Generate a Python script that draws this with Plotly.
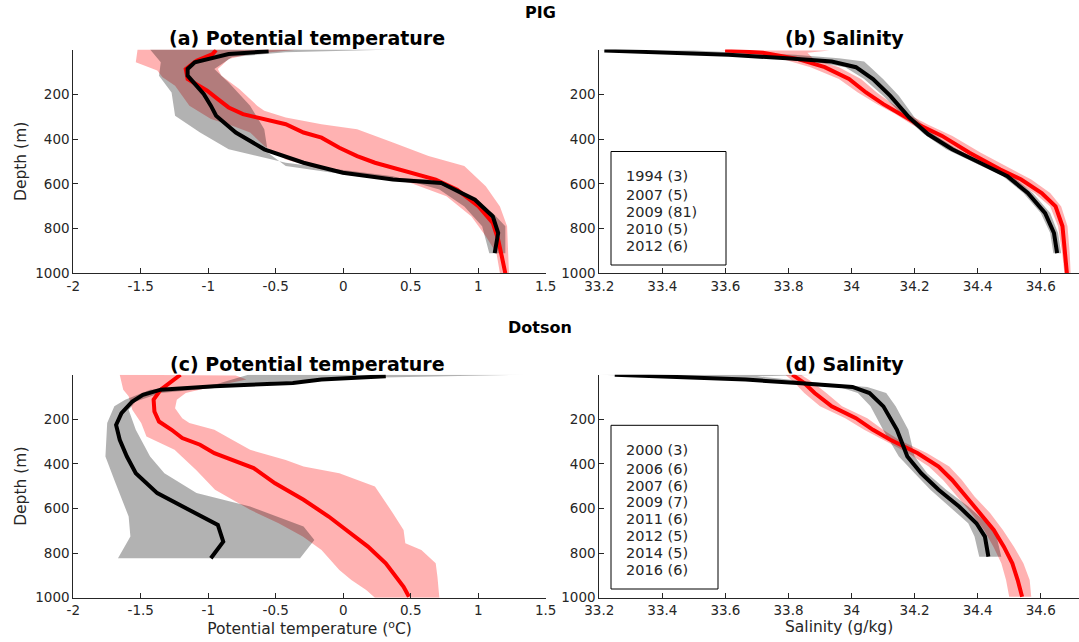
import plotly.graph_objects as go

# ---------------- PIG: potential temperature (a) ----------------
pig_t_old_depth = [8, 20, 57, 87, 117, 154, 199, 251, 296, 371, 446, 506, 551, 581, 596, 671, 746, 820, 910]
pig_t_old = [-0.553, -0.849, -1.10, -1.153, -1.153, -1.10, -1.034, -0.981, -0.942, -0.796, -0.585, -0.294,
             -0.003, 0.368, 0.725, 0.976, 1.108, 1.148, 1.122]
pig_t_new_depth = [3, 20, 50, 87, 132, 154, 184, 222, 259, 289, 311, 334, 371, 394, 439, 476, 506, 528, 551,
                   581, 626, 701, 775, 850, 925, 1000]
pig_t_new = [-0.942, -0.968, -1.087, -1.167, -1.153, -1.087, -1.008, -0.929, -0.849, -0.743, -0.585, -0.426,
             -0.294, -0.161, -0.029, 0.103, 0.235, 0.368, 0.500, 0.685, 0.844, 1.003, 1.108, 1.148, 1.175, 1.201]
pig_t_new_lo_depth = [0, 57, 94, 124, 162, 207, 251, 311, 341, 371, 431, 491, 536, 566, 596, 656, 746, 835, 910, 1000]
pig_t_new_lo = [-1.524, -1.537, -1.378, -1.339, -1.246, -1.193, -1.14, -0.98, -0.823, -0.69, -0.585, -0.426,
                -0.161, 0.235, 0.5, 0.765, 0.95, 1.056, 1.135, 1.161]
pig_t_new_hi_depth = [0, 20, 42, 87, 117, 177, 251, 274, 304, 334, 356, 416, 476, 521, 611, 701, 790, 1000]
pig_t_new_hi = [-0.32, -0.69, -0.849, -0.929, -0.902, -0.77, -0.638, -0.585, -0.426, -0.161, 0.103, 0.368,
                0.632, 0.897, 1.056, 1.161, 1.214, 1.228]
pig_t_old_lo_depth = [0, 57, 117, 192, 296, 371, 446, 506, 536, 566, 626, 701, 790, 910]
pig_t_old_lo = [-1.431, -1.352, -1.365, -1.272, -1.246, -1.061, -0.849, -0.426, -0.029, 0.368, 0.712, 0.897,
                1.029, 1.082]
pig_t_old_hi_depth = [0, 12, 34, 87, 147, 251, 356, 461, 521, 566, 581, 656, 731, 790, 910]
pig_t_old_hi = [0.394, -0.426, -0.823, -0.955, -0.849, -0.69, -0.585, -0.558, -0.426, 0.103, 0.632, 0.897,
                1.108, 1.201, 1.201]

# ---------------- PIG: salinity (b) ----------------
pig_s_old_depth = [5, 12, 24, 39, 54, 79, 132, 207, 304, 379, 446, 506, 566, 641, 731, 820, 910]
pig_s_old = [33.216, 33.391, 33.61, 33.795, 33.937, 34.014, 34.068, 34.123, 34.183, 34.243, 34.319, 34.407,
             34.494, 34.559, 34.614, 34.642, 34.652]
pig_s_old_lo = [33.2, 33.36, 33.57, 33.75, 33.88, 33.98, 34.04, 34.10, 34.17, 34.23, 34.30, 34.39, 34.48,
                34.545, 34.60, 34.63, 34.64]
pig_s_old_hi = [33.5, 33.62, 33.82, 33.96, 34.04, 34.06, 34.10, 34.15, 34.20, 34.26, 34.335, 34.42, 34.51,
                34.575, 34.63, 34.655, 34.665]
pig_s_new_depth = [5, 15, 42, 79, 132, 192, 244, 289, 334, 386, 461, 536, 581, 641, 701, 790, 910, 1000]
pig_s_new = [33.599, 33.719, 33.828, 33.915, 33.992, 34.046, 34.101, 34.156, 34.21, 34.287, 34.374, 34.472,
             34.538, 34.603, 34.647, 34.669, 34.678, 34.683]
pig_s_new_lo = [33.58, 33.68, 33.78, 33.87, 33.96, 34.02, 34.08, 34.14, 34.19, 34.26, 34.345, 34.44, 34.51,
                34.58, 34.63, 34.655, 34.668, 34.675]
pig_s_new_hi = [33.93, 33.86, 33.88, 33.96, 34.03, 34.08, 34.13, 34.18, 34.24, 34.32, 34.41, 34.51, 34.57,
                34.63, 34.665, 34.685, 34.692, 34.695]

# ---------------- Dotson: potential temperature (c) ----------------
dot_t_old_depth = [7, 22, 37, 52, 67, 90, 120, 172, 225, 292, 367, 442, 531, 606, 674, 749, 823]
dot_t_old = [0.315, -0.161, -0.373, -0.955, -1.352, -1.484, -1.563, -1.643, -1.683, -1.656, -1.603, -1.537,
             -1.378, -1.14, -0.929, -0.889, -0.981]
dot_t_new_depth = [0, 30, 67, 112, 165, 210, 247, 284, 314, 352, 382, 419, 487, 561, 636, 711, 771, 846, 906,
                   951, 996]
dot_t_new = [-1.206, -1.272, -1.352, -1.405, -1.399, -1.365, -1.272, -1.193, -1.061, -0.955, -0.823, -0.664,
             -0.505, -0.294, -0.108, 0.05, 0.183, 0.315, 0.394, 0.447, 0.487]
dot_t_new_lo_depth = [0, 67, 97, 157, 217, 277, 337, 427, 516, 606, 666, 726, 786, 876, 921, 966, 1000]
dot_t_new_lo = [-1.656, -1.63, -1.59, -1.563, -1.497, -1.458, -1.25, -1.09, -0.95, -0.69, -0.479, -0.30,
                -0.161, -0.029, 0.06, 0.17, 0.235]
dot_t_new_hi_depth = [4, 22, 52, 82, 112, 150, 195, 217, 247, 292, 337, 382, 412, 442, 501, 621, 696, 756,
                      786, 846, 906, 1000]
dot_t_new_hi = [-0.796, -0.717, -0.955, -1.167, -1.233, -1.246, -1.193, -1.14, -0.955, -0.823, -0.69, -0.426,
                -0.294, -0.029, 0.235, 0.368, 0.447, 0.46, 0.579, 0.685, 0.698, 0.712]
dot_t_old_lo_depth = [0, 45, 67, 112, 142, 217, 367, 472, 636, 726, 823]
dot_t_old_lo = [-0.704, -0.955, -1.431, -1.616, -1.696, -1.749, -1.762, -1.696, -1.59, -1.577, -1.669]
dot_t_old_hi_depth = [0, 15, 37, 60, 82, 120, 157, 247, 367, 442, 531, 591, 681, 741, 823]
dot_t_old_hi = [1.346, 0.103, -0.69, -0.955, -1.352, -1.537, -1.59, -1.537, -1.431, -1.325, -1.087, -0.69,
                -0.294, -0.214, -0.32]

# ---------------- Dotson: salinity (d) ----------------
dot_s_old_depth = [0, 7, 22, 37, 55, 82, 142, 247, 367, 442, 516, 591, 666, 726, 816]
dot_s_old = [33.249, 33.391, 33.664, 33.828, 34.003, 34.057, 34.101, 34.144, 34.177, 34.221, 34.276, 34.341,
             34.396, 34.423, 34.434]
dot_s_old_lo = [33.2, 33.35, 33.62, 33.79, 33.96, 34.02, 34.06, 34.10, 34.15, 34.20, 34.25, 34.31, 34.37,
                34.39, 34.405]
dot_s_old_hi = [33.9, 33.7, 33.8, 33.9, 34.05, 34.11, 34.14, 34.18, 34.20, 34.24, 34.30, 34.37, 34.43,
                34.46, 34.475]
dot_s_new_depth = [0, 37, 82, 142, 195, 247, 292, 352, 412, 472, 546, 621, 696, 771, 846, 921, 996]
dot_s_new = [33.812, 33.85, 33.883, 33.937, 34.014, 34.068, 34.123, 34.21, 34.276, 34.319, 34.363, 34.407,
             34.451, 34.483, 34.51, 34.527, 34.541]
dot_s_new_lo = [33.79, 33.82, 33.85, 33.90, 33.98, 34.04, 34.10, 34.18, 34.245, 34.29, 34.335, 34.38, 34.42,
                34.45, 34.475, 34.49, 34.50]
dot_s_new_hi = [33.84, 33.88, 33.92, 33.97, 34.05, 34.10, 34.15, 34.24, 34.31, 34.35, 34.39, 34.44, 34.48,
                34.515, 34.545, 34.565, 34.57]

# ---------------- labels ----------------
temp_ticks = [-2, -1.5, -1, -0.5, 0, 0.5, 1, 1.5]
temp_ticktext = ["-2", "-1.5", "-1", "-0.5", "0", "0.5", "1", "1.5"]
sal_ticks = [33.2, 33.4, 33.6, 33.8, 34.0, 34.2, 34.4, 34.6]
sal_ticktext = ["33.2", "33.4", "33.6", "33.8", "34", "34.2", "34.4", "34.6"]
depth_ticks = [200, 400, 600, 800, 1000]
pig_legend = ["1994 (3)", "2007 (5)", "2009 (81)", "2010 (5)", "2012 (6)"]
dot_legend = ["2000 (3)", "2006 (6)", "2007 (6)", "2009 (7)", "2011 (6)", "2012 (5)", "2014 (5)", "2016 (6)"]

RED_FILL = "rgba(255,0,0,0.3)"
GREY_FILL = "rgba(0,0,0,0.3)"
W, H = 1079, 642
FONT = "DejaVu Sans"
AX = "#262626"

fig = go.Figure()


def band(xl, dl, xh, dh, color, xa, ya):
    xs = list(xl) + list(reversed(xh))
    ys = list(dl) + list(reversed(dh))
    fig.add_trace(go.Scatter(x=xs, y=ys, fill="toself", fillcolor=color, mode="none",
                             line=dict(width=0), hoverinfo="skip", showlegend=False, xaxis=xa, yaxis=ya))


def line(x, d, color, xa, ya):
    fig.add_trace(go.Scatter(x=x, y=d, mode="lines", line=dict(color=color, width=4),
                             showlegend=False, xaxis=xa, yaxis=ya))


# (a)
band(pig_t_new_lo, pig_t_new_lo_depth, pig_t_new_hi, pig_t_new_hi_depth, RED_FILL, "x", "y")
band(pig_t_old_lo, pig_t_old_lo_depth, pig_t_old_hi, pig_t_old_hi_depth, GREY_FILL, "x", "y")
line(pig_t_new, pig_t_new_depth, "#ff0000", "x", "y")
line(pig_t_old, pig_t_old_depth, "#000000", "x", "y")
# (b)
band(pig_s_new_lo, pig_s_new_depth, pig_s_new_hi, pig_s_new_depth, RED_FILL, "x2", "y2")
band(pig_s_old_lo, pig_s_old_depth, pig_s_old_hi, pig_s_old_depth, GREY_FILL, "x2", "y2")
line(pig_s_new, pig_s_new_depth, "#ff0000", "x2", "y2")
line(pig_s_old, pig_s_old_depth, "#000000", "x2", "y2")
# (c)
band(dot_t_new_lo, dot_t_new_lo_depth, dot_t_new_hi, dot_t_new_hi_depth, RED_FILL, "x3", "y3")
band(dot_t_old_lo, dot_t_old_lo_depth, dot_t_old_hi, dot_t_old_hi_depth, GREY_FILL, "x3", "y3")
line(dot_t_new, dot_t_new_depth, "#ff0000", "x3", "y3")
line(dot_t_old, dot_t_old_depth, "#000000", "x3", "y3")
# (d)
band(dot_s_new_lo, dot_s_new_depth, dot_s_new_hi, dot_s_new_depth, RED_FILL, "x4", "y4")
band(dot_s_old_lo, dot_s_old_depth, dot_s_old_hi, dot_s_old_depth, GREY_FILL, "x4", "y4")
line(dot_s_new, dot_s_new_depth, "#ff0000", "x4", "y4")
line(dot_s_old, dot_s_old_depth, "#000000", "x4", "y4")

# domains (pixel-derived)
xl_dom = [73.3 / W, 545.7 / W]
xr_dom = [599.3 / W, 1.0]
yt_dom = [1 - 273.3 / H, 1 - 49.5 / H]
yb_dom = [1 - 597.7 / H, 1 - 374.7 / H]
sal_right = 33.2 + (W - 599.3) / 315.3

TITLE_FONT = dict(family=FONT, size=15.5, color=AX)
common_x = dict(showline=True, linecolor=AX, linewidth=1, ticks="inside", ticklen=5, tickcolor=AX,
                showgrid=False, zeroline=False, tickfont=dict(family=FONT, size=13.5, color=AX),
                fixedrange=True, automargin=False)
common_y = dict(showline=True, linecolor=AX, linewidth=1, ticks="inside", ticklen=5, tickcolor=AX,
                showgrid=False, zeroline=False, tickfont=dict(family=FONT, size=13.5, color=AX),
                range=[1000, 0], tickvals=depth_ticks, ticktext=[str(v) for v in depth_ticks],
                fixedrange=True, automargin=False)

depth_title = dict(text="Depth (m)", font=TITLE_FONT, standoff=4)

layout = dict(
    width=W, height=H, margin=dict(l=0, r=0, t=0, b=0),
    plot_bgcolor="white", paper_bgcolor="white", showlegend=False,
    xaxis=dict(domain=xl_dom, anchor="y", range=[-2, 1.5], tickvals=temp_ticks, ticktext=temp_ticktext, **common_x),
    yaxis=dict(domain=yt_dom, anchor="x", title=depth_title, **common_y),
    xaxis2=dict(domain=xr_dom, anchor="y2", range=[33.2, sal_right], tickvals=sal_ticks, ticktext=sal_ticktext, **common_x),
    yaxis2=dict(domain=yt_dom, anchor="x2", **common_y),
    xaxis3=dict(domain=xl_dom, anchor="y3", range=[-2, 1.5], tickvals=temp_ticks, ticktext=temp_ticktext,
                title=dict(text="Potential temperature (<sup>o</sup>C)", font=TITLE_FONT, standoff=4), **common_x),
    yaxis3=dict(domain=yb_dom, anchor="x3", title=depth_title, **common_y),
    xaxis4=dict(domain=xr_dom, anchor="y4", range=[33.2, sal_right], tickvals=sal_ticks, ticktext=sal_ticktext,
                title=dict(text="Salinity (g/kg)", font=TITLE_FONT, standoff=4), **common_x),
    yaxis4=dict(domain=yb_dom, anchor="x4", **common_y),
)
fig.update_layout(**layout)


def ann(text, px, py, size, bold=False, xanchor="center"):
    fig.add_annotation(text=f"<b>{text}</b>" if bold else text, x=px / W, y=1 - py / H, xref="paper",
                       yref="paper", showarrow=False, xanchor=xanchor, yanchor="middle",
                       font=dict(family=FONT, size=size, color="#000000" if bold else AX))


ann("PIG", 540, 13, 16, bold=True)
ann("Dotson", 540, 328, 16, bold=True)
ann("(a) Potential temperature", 307, 38.5, 19, bold=True)
ann("(b) Salinity", 844, 38.5, 19, bold=True)
ann("(c) Potential temperature", 307, 363.5, 19, bold=True)
ann("(d) Salinity", 844, 363.5, 19, bold=True)

# legend boxes
fig.add_shape(type="rect", xref="paper", yref="paper", x0=611 / W, x1=726 / W, y0=1 - 265 / H, y1=1 - 151.5 / H,
              line=dict(color="#000000", width=1), fillcolor="white", layer="above")
for txt, py in zip(pig_legend, [175.6, 195, 212, 229, 246]):
    ann(txt, 623.5, py, 14.5, xanchor="left")
fig.add_shape(type="rect", xref="paper", yref="paper", x0=611 / W, x1=718 / W, y0=1 - 589 / H, y1=1 - 425.3 / H,
              line=dict(color="#000000", width=1), fillcolor="white", layer="above")
for txt, py in zip(dot_legend, [449.6, 468.6, 485.5, 502.5, 519.1, 536.4, 553.1, 570.1]):
    ann(txt, 623.5, py, 14.5, xanchor="left")

fig.write_html("out.html")
